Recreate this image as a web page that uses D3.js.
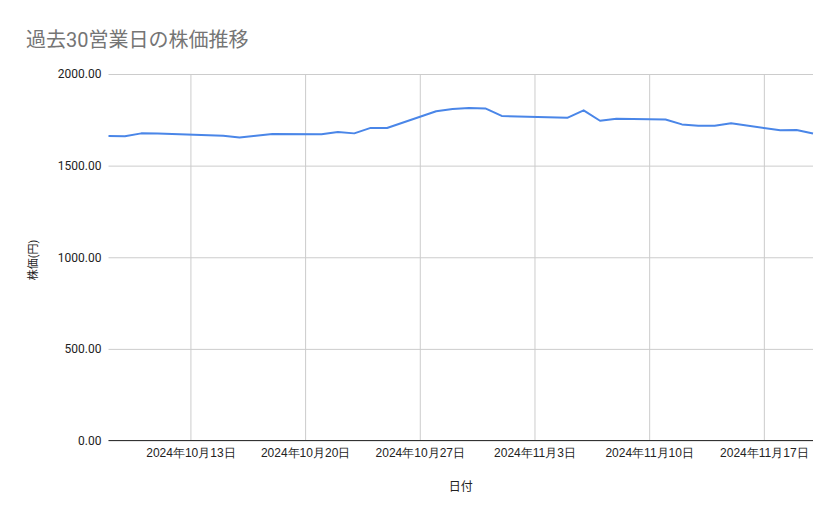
<!DOCTYPE html>
<html>
<head>
<meta charset="utf-8">
<script src="https://cdn.jsdelivr.net/npm/d3@7"></script>
<style>
  html, body { margin: 0; padding: 0; background: #fff; }
  svg { display: block; font-family: Roboto, "Noto Sans CJK JP", sans-serif; }
</style>
</head>
<body>
<svg id="chart" width="839" height="519"></svg>
<script>
const title = "過去30営業日の株価推移";
const xTitle = "日付";
const yTitle = "株価(円)";
const dates = [
  "2024-10-08","2024-10-09","2024-10-10","2024-10-11",
  "2024-10-15","2024-10-16","2024-10-17","2024-10-18",
  "2024-10-21","2024-10-22","2024-10-23","2024-10-24","2024-10-25",
  "2024-10-28","2024-10-29","2024-10-30","2024-10-31","2024-11-01",
  "2024-11-05","2024-11-06","2024-11-07","2024-11-08",
  "2024-11-11","2024-11-12","2024-11-13","2024-11-14","2024-11-15",
  "2024-11-18","2024-11-19","2024-11-20"
];
const prices = [
  1662, 1660, 1676, 1675,
  1663, 1654, 1663, 1672,
  1671, 1684, 1676, 1706, 1705,
  1797, 1809, 1815, 1812, 1771,
  1761, 1802, 1745, 1756,
  1752, 1725, 1718, 1718, 1731,
  1693, 1694, 1675
];
const yTicks = [0, 500, 1000, 1500, 2000];
const xTickDates = ["2024-10-13","2024-10-20","2024-10-27","2024-11-03","2024-11-10","2024-11-17"];
const xDomain = ["2024-10-08","2024-11-20"];

const parse = d3.utcParse("%Y-%m-%d");
const data = dates.map((d, i) => ({ date: parse(d), value: prices[i] }));

const svg = d3.select("#chart");
const mLeft = 108.5, mRight = 813, mTop = 74, mBottom = 440.5;

const x = d3.scaleUtc().domain(xDomain.map(parse)).range([mLeft, mRight]);
const y = d3.scaleLinear().domain([0, 2000]).range([mBottom, mTop]);

// title
svg.append("text")
  .attr("x", 26).attr("y", 47)
  .attr("font-size", 20)
  .attr("fill", "#757575")
  .text(title);

// horizontal gridlines + y axis
const yAxis = d3.axisLeft(y).tickValues(yTicks).tickSize(-(mRight - mLeft)).tickPadding(7)
  .tickFormat(d3.format(".2f"));
const gy = svg.append("g").attr("transform", `translate(${mLeft},0)`).call(yAxis);
gy.select(".domain").remove();
gy.selectAll(".tick line").attr("stroke", "#cccccc").attr("stroke-width", 1);
gy.selectAll(".tick text").attr("font-size", 12).attr("fill", "#222").attr("font-family", "Roboto, sans-serif");

// vertical gridlines + x axis
const xAxis = d3.axisBottom(x).tickValues(xTickDates.map(parse)).tickSize(-(mBottom - mTop)).tickPadding(8)
  .tickFormat(d => `${d.getUTCFullYear()}年${d.getUTCMonth() + 1}月${d.getUTCDate()}日`);
const gx = svg.append("g").attr("transform", `translate(0,${mBottom})`).call(xAxis);
gx.select(".domain").remove();
gx.selectAll(".tick line").attr("stroke", "#cccccc").attr("stroke-width", 1);
gx.selectAll(".tick text").attr("font-size", 12).attr("fill", "#222");

// baseline
svg.append("line")
  .attr("x1", mLeft).attr("x2", mRight)
  .attr("y1", y(0)).attr("y2", y(0))
  .attr("stroke", "#333").attr("stroke-width", 1.2);

// line
const line = d3.line().x(d => x(d.date)).y(d => y(d.value));
svg.append("path")
  .datum(data)
  .attr("d", line)
  .attr("fill", "none")
  .attr("stroke", "#4a86e8")
  .attr("stroke-width", 2)
  .attr("stroke-linejoin", "round");

// axis titles
svg.append("text")
  .attr("x", (mLeft + mRight) / 2).attr("y", 491)
  .attr("text-anchor", "middle")
  .attr("font-size", 12).attr("fill", "#222")
  .text(xTitle);

svg.append("text")
  .attr("transform", `translate(37,260) rotate(-90)`)
  .attr("text-anchor", "middle")
  .attr("font-size", 11).attr("fill", "#222")
  .text(yTitle);
</script>
</body>
</html>
